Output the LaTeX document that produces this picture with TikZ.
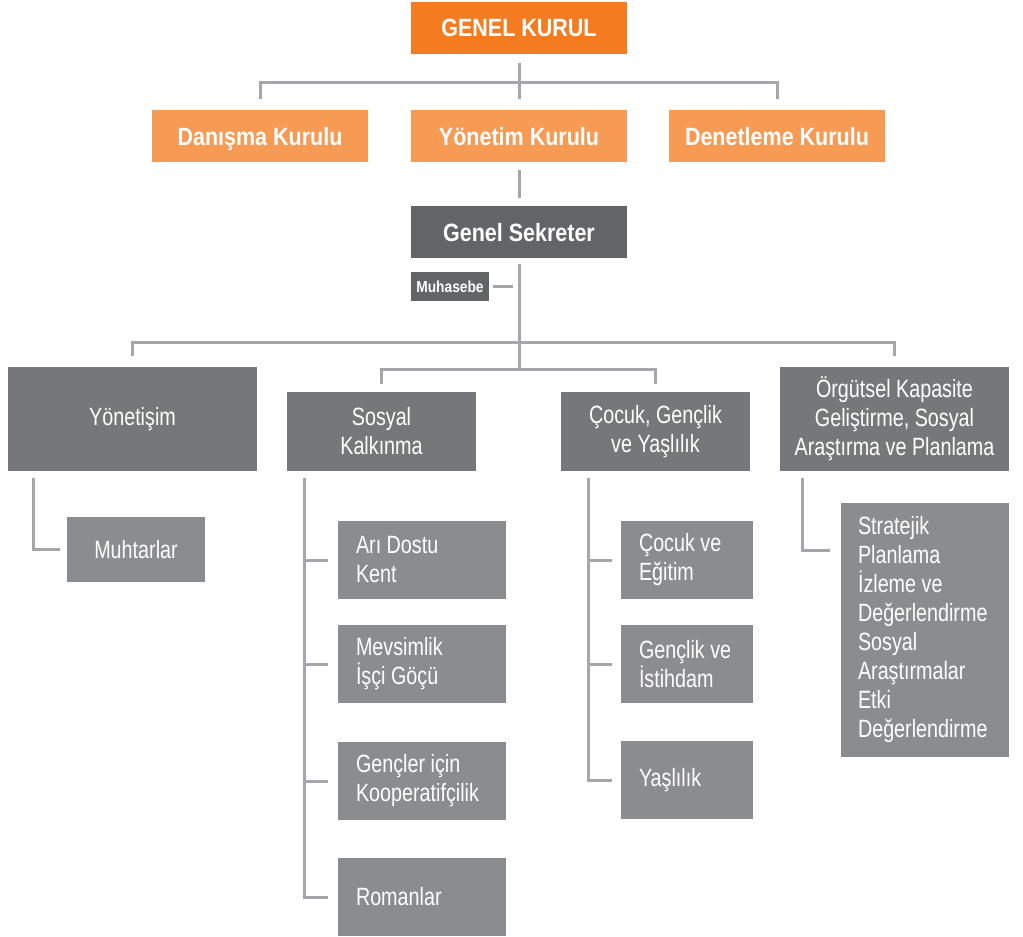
\documentclass[tikz,border=0pt]{standalone}
\usepackage{fontspec}
\setmainfont{Liberation Sans}[FakeStretch=0.79]
\newfontfamily\bcond{Liberation Sans}[FakeStretch=0.86]
\usetikzlibrary{calc}
\definecolor{orA}{HTML}{F47B20}
\definecolor{orB}{HTML}{F79A53}
\definecolor{gyA}{HTML}{636466}
\definecolor{gyB}{HTML}{76777B}
\definecolor{gyC}{HTML}{8B8C8E}
\definecolor{lnC}{HTML}{A5A6A9}
\tikzset{
  x=1pt, y=-1pt,
  conn/.style={draw=lnC, line width=3pt},
  topbox/.style={text=white, inner sep=0pt, text height=18pt, text depth=0pt, font=\bcond\bfseries\fontsize{25}{29}\selectfont, minimum width=216pt, minimum height=52pt},
  boxA/.style={topbox, fill=orA},
  boxB/.style={topbox, fill=orB},
  boxS/.style={topbox, fill=gyA},
  boxM/.style={fill=gyA, text=white, inner sep=0pt, text height=12pt, text depth=0pt, font=\bcond\bfseries\fontsize{16}{19}\selectfont, minimum width=78pt, minimum height=29pt},
  boxL3/.style={fill=gyB, text=white, inner sep=0pt, align=center, font=\fontsize{25}{29}\selectfont},
  boxL4/.style={fill=gyC, text=white, inner ysep=0pt, inner xsep=18pt, align=flush left, font=\fontsize{25}{29}\selectfont},
}
\begin{document}
\begin{tikzpicture}
\useasboundingbox (0,0) rectangle (1023,937);
% top levels
\node[boxA] (gk) at (519,27.5) {GENEL KURUL};
\node[boxB] (dk) at (260,136) {Danışma Kurulu};
\node[boxB] (yk) at (519,136) {Yönetim Kurulu};
\node[boxB] (de) at (777,136) {Denetleme Kurulu};
\node[boxS] (gs) at (519,232) {Genel Sekreter};
\node[boxM] (mu) at (450,286.5) {Muhasebe};
% level 3
\node[boxL3, minimum width=249pt, minimum height=104pt] (yon) at (132.5,419) {Yönetişim};
\node[boxL3, minimum width=189pt, minimum height=79pt] (sos) at (381.5,431.5) {Sosyal\\Kalkınma};
\node[boxL3, minimum width=189pt, minimum height=79pt] (coc) at (655.5,431.5) {Çocuk, Gençlik\\ve Yaşlılık};
\node[boxL3, minimum width=229pt, minimum height=104pt] (org) at (894.5,419) {Örgütsel Kapasite\\Geliştirme, Sosyal\\Araştırma ve Planlama};
% level 4
\node[boxL3, fill=gyC, minimum width=138pt, minimum height=65pt] (muh) at (136,549.5) {Muhtarlar};
\node[boxL4, text width=132pt, minimum height=78pt] (a1) at (422,560) {Arı Dostu\\Kent};
\node[boxL4, text width=132pt, minimum height=78pt] (a2) at (422,664) {Mevsimlik\\İşçi Göçü};
\node[boxL4, text width=132pt, minimum height=78pt] (a3) at (422,781) {Gençler için\\Kooperatifçilik};
\node[boxL4, text width=132pt, minimum height=78pt] (a4) at (422,897) {Romanlar};
\node[boxL4, text width=96pt, minimum height=78pt] (c1) at (687,560) {Çocuk ve\\Eğitim};
\node[boxL4, text width=96pt, minimum height=78pt] (c2) at (687,664) {Gençlik ve\\İstihdam};
\node[boxL4, text width=96pt, minimum height=78pt] (c3) at (687,780) {Yaşlılık};
\node[boxL4, inner xsep=17pt, text width=134pt, minimum height=254pt] (o1) at (925,630) {Stratejik\\Planlama\\İzleme ve\\Değerlendirme\\Sosyal\\Araştırmalar\\Etki\\Değerlendirme};
% connectors top
\draw[conn] ([yshift=-9pt]gk.south) -- ++(0,20) coordinate (h1);
\draw[conn] ([yshift=11pt]dk.north) |- (h1) -| ([yshift=11pt]de.north);
\draw[conn] (h1) -- ([yshift=11pt]yk.north);
\draw[conn] ([yshift=-8pt]yk.south) -- ([yshift=8pt]gs.north);
% genel sekreter down
\draw[conn] ([yshift=-6pt]gs.south) -- ++(0,105) coordinate (h3);
\draw[conn] ([xshift=4pt]mu.east) -- ++(20,0);
\coordinate (h2) at ($(gs.south)+(0,-84pt)$);
\draw[conn] ([yshift=11pt]yon.north) |- (h2) -| ([yshift=11pt]org.north);
\draw[conn] ([yshift=8pt]sos.north) |- (h3) -| ([yshift=8pt]coc.north);
% level 4 hooks
\draw[conn] (yon.south west) ++(26pt,-7pt) |- ([xshift=-7pt]muh.west);
\draw[conn] (sos.south west) ++(18pt,-7pt) coordinate (s0) |- ([xshift=-10pt]a4.west);
\foreach \n in {a1,a2,a3}{\draw[conn] (s0 |- \n.west) -- ([xshift=-10pt]\n.west);}
\draw[conn] (coc.south west) ++(28pt,-7pt) coordinate (c0) |- ([xshift=-9pt]c3.west);
\foreach \n in {c1,c2}{\draw[conn] (c0 |- \n.west) -- ([xshift=-9pt]\n.west);}
\draw[conn] (org.south west) ++(23pt,-7pt) |- ($(o1.north west)+(-11pt,-48pt)$) coordinate (oe);
\end{tikzpicture}
\end{document}
